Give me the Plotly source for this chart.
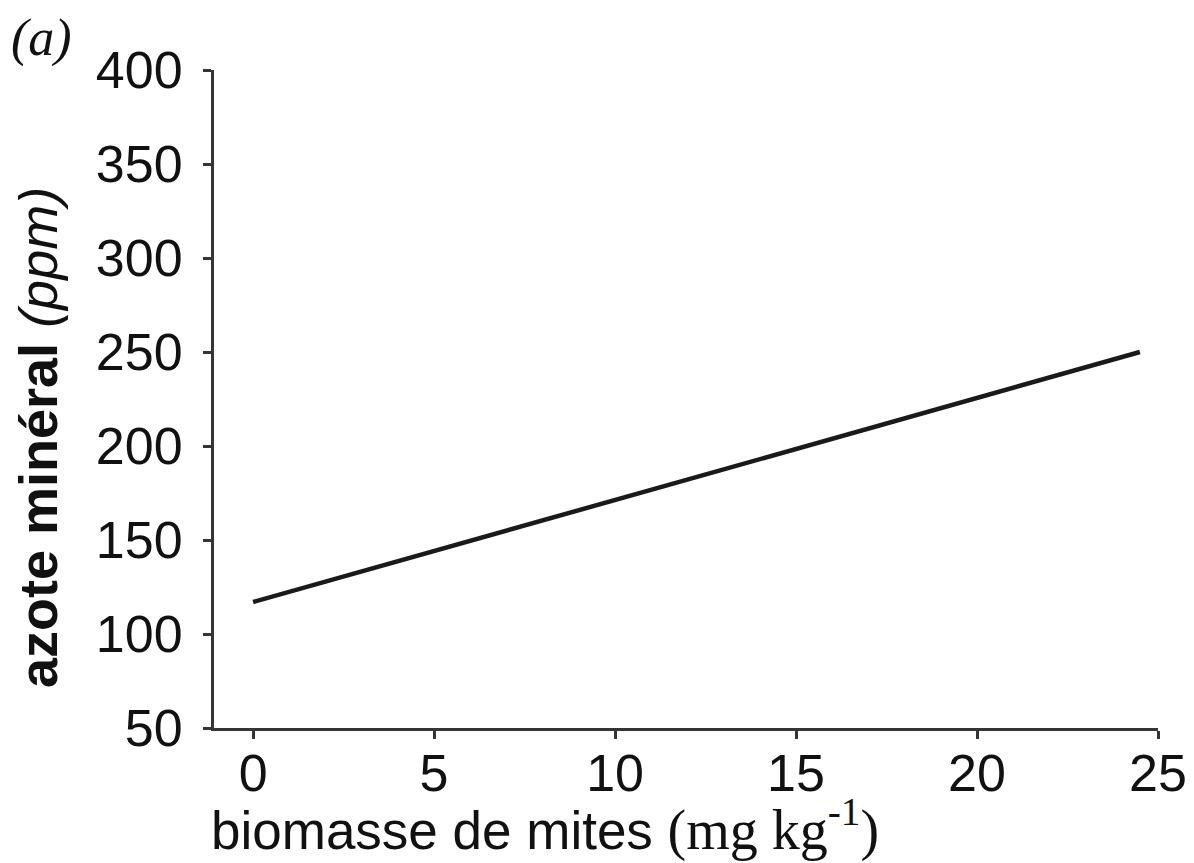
import plotly.graph_objects as go

# data
line_x = [0, 24.5]
line_y = [117, 250]
x_ticks = [0, 5, 10, 15, 20, 25]
y_ticks = [50, 100, 150, 200, 250, 300, 350, 400]

OFF = 8  # page body margin offset
W, H = 1194, 863
L, R, T, B = 214 - OFF, 44, 70 - OFF, 143
pw, ph = W - L - R, H - T - B


def px(x):
    return (x - OFF - L) / pw


def py(y):
    return (H - B - (y - OFF)) / ph


fig = go.Figure()
fig.add_trace(go.Scatter(x=line_x, y=line_y, mode="lines",
                         line=dict(color="#1a1a1a", width=4.5),
                         showlegend=False, hoverinfo="skip"))

axis_common = dict(showgrid=False, zeroline=False, showline=True,
                   linecolor="#353535", linewidth=3,
                   ticks="outside", tickcolor="#353535", tickwidth=3, ticklen=8,
                   tickfont=dict(family="Liberation Sans, Arial, sans-serif", size=52, color="#111"))

fig.update_xaxes(range=[-1.08, 25], tickvals=x_ticks, ticktext=[str(v) for v in x_ticks],
                 ticklabelstandoff=-10, **axis_common)
fig.update_yaxes(range=[50, 400], tickvals=y_ticks, ticktext=[str(v) for v in y_ticks],
                 ticklabelstandoff=10, **axis_common)

fig.add_annotation(xref="paper", yref="paper", x=px(38), y=py(438),
                   text="<b>azote minéral</b> <i>(ppm)</i>", textangle=-90, showarrow=False,
                   font=dict(family="Liberation Sans, Arial, sans-serif", size=54, color="#111"),
                   xanchor="center", yanchor="middle")
fig.add_annotation(xref="paper", yref="paper", x=px(545), y=py(826),
                   text="biomasse de mites <span style='font-family:Liberation Serif, Times New Roman, serif; font-size:56px'>(mg kg<sup>-1</sup>)</span>",
                   showarrow=False,
                   font=dict(family="Liberation Sans, Arial, sans-serif", size=53, color="#111"),
                   xanchor="center", yanchor="middle")
fig.add_annotation(xref="paper", yref="paper", x=px(41), y=py(38),
                   text="<i>(a)</i>", showarrow=False,
                   font=dict(family="Liberation Serif, Times New Roman, serif", size=52, color="#111"),
                   xanchor="center", yanchor="middle")

fig.update_layout(width=W, height=H, margin=dict(l=L, r=R, t=T, b=B),
                  paper_bgcolor="white", plot_bgcolor="white")

fig.write_html("out.html")
